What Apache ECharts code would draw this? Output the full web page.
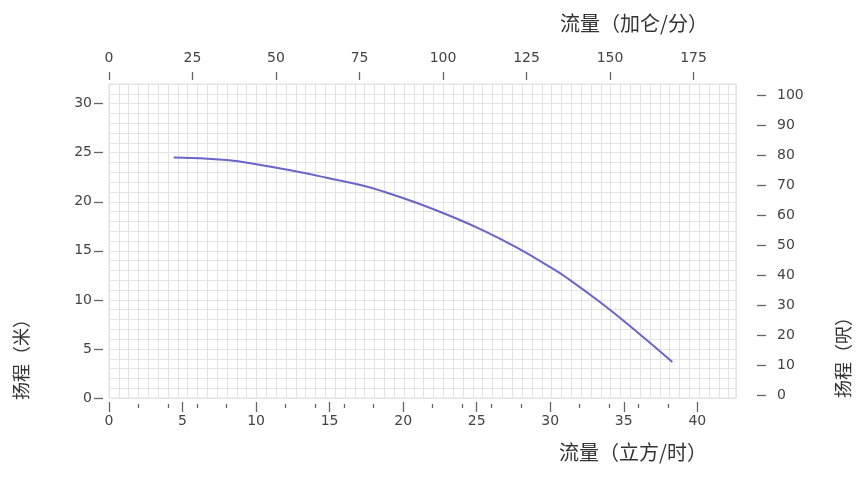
<!DOCTYPE html>
<html><head><meta charset="utf-8">
<script src="https://cdn.jsdelivr.net/npm/echarts@6/dist/echarts.min.js"></script>
<style>html,body{margin:0;padding:0;background:#fff}#c{width:865px;height:479px}</style>
</head><body><div id="c"></div>
<script>
// Data (flow m³/h, head m)
const flowM3h = [4.4, 8.0, 10.3, 12.5, 14.8, 17.1, 18.7, 20.9, 23.2, 25.5, 27.7, 30.0, 31.1, 33.4, 35.7, 38.3];
const headM   = [24.5, 24.25, 23.75, 23.15, 22.45, 21.7, 21.02, 19.9, 18.55, 17.03, 15.34, 13.34, 12.28, 9.75, 6.99, 3.68];
const bottomTicks = [0, 5, 10, 15, 20, 25, 30, 35, 40];
const bottomMinorTicks = [2, 4, 6, 8, 12, 14, 16, 18, 22, 24, 26, 28, 32, 34, 36, 38];
const topTicks = [0, 25, 50, 75, 100, 125, 150, 175];
const leftTicks = [0, 5, 10, 15, 20, 25, 30];
const rightTicks = [0, 10, 20, 30, 40, 50, 60, 70, 80, 90, 100];
const titleTop = '流量（加仑/分）';
const titleBottom = '流量（立方/时）';
const titleLeft = '扬程（米）';
const titleRight = '扬程（呎）';

const X_MAX = 42.63;          // m³/h at right edge of grid
const GPM_PER_M3H = 4.403;
const Y_MAX = 32;
const GRID_CELLS_X = 63.75;

const labelFont = {color: '#444', fontFamily: 'DejaVu Sans', fontSize: 14};
const tickStyle = {color: '#666', width: 1.3};
const gridLine = {lineStyle: {color: '#e3e3e3', width: 1}};
const noLine = {show: false, onZero: false};

const chart = echarts.init(document.getElementById('c'), null, {renderer: 'canvas'});
chart.setOption({
  animation: false,
  backgroundColor: '#fff',
  grid: [
    {left: 109, top: 84, width: 627, height: 314, show: true, borderColor: '#dedede', borderWidth: 1, containLabel: false},
    {left: 109, top: 95, width: 627, height: 300, containLabel: false}
  ],
  xAxis: [
    {type: 'value', gridIndex: 0, position: 'bottom', min: 0, max: X_MAX, offset: 4,
     axisLine: noLine, splitLine: {show: false},
     axisTick: {show: true, length: 10, lineStyle: tickStyle, customValues: bottomTicks},
     axisLabel: Object.assign({margin: 12, customValues: bottomTicks}, labelFont)},
    {type: 'value', gridIndex: 0, position: 'bottom', min: 0, max: X_MAX, offset: 6,
     axisLine: noLine, splitLine: {show: false},
     axisTick: {show: true, length: 4, lineStyle: tickStyle, customValues: bottomMinorTicks},
     axisLabel: {show: false}},
    {type: 'value', gridIndex: 0, position: 'top', min: 0, max: X_MAX * GPM_PER_M3H, offset: 4,
     axisLine: noLine, splitLine: {show: false},
     axisTick: {show: true, length: 8, lineStyle: tickStyle, customValues: topTicks},
     axisLabel: Object.assign({margin: 15, customValues: topTicks}, labelFont)},
    {type: 'value', gridIndex: 0, position: 'bottom', min: 0, max: GRID_CELLS_X, interval: 1,
     axisLine: noLine, axisTick: {show: false}, axisLabel: {show: false},
     splitLine: Object.assign({show: true}, gridLine)},
    {type: 'value', gridIndex: 1, show: false, min: 0, max: 1, axisLine: noLine}
  ],
  yAxis: [
    {type: 'value', gridIndex: 0, position: 'left', min: 0, max: Y_MAX, offset: 6,
     axisLine: noLine, splitLine: {show: false},
     axisTick: {show: true, length: 9, lineStyle: tickStyle, customValues: leftTicks},
     axisLabel: Object.assign({margin: 11, customValues: leftTicks}, labelFont)},
    {type: 'value', gridIndex: 0, position: 'left', min: 0, max: Y_MAX, interval: 1,
     axisLine: noLine, axisTick: {show: false}, axisLabel: {show: false},
     splitLine: Object.assign({show: true}, gridLine)},
    {type: 'value', gridIndex: 1, position: 'right', min: 0, max: 100, offset: 21,
     axisLine: noLine, splitLine: {show: false},
     axisTick: {show: true, length: 9, lineStyle: tickStyle, customValues: rightTicks},
     axisLabel: Object.assign({margin: 20, customValues: rightTicks}, labelFont)}
  ],
  series: [{
    type: 'line', xAxisIndex: 0, yAxisIndex: 0,
    data: flowM3h.map((q, i) => [q, headM[i]]),
    smooth: true, showSymbol: false, symbol: 'none',
    lineStyle: {color: '#6a66c9', width: 2}
  }],
  graphic: [
    {type: 'text', x: 634, y: 23, style: {text: titleTop, font: '20px "Noto Sans CJK SC"', fill: '#333', align: 'center', verticalAlign: 'middle'}},
    {type: 'text', x: 633, y: 452, style: {text: titleBottom, font: '20px "Noto Sans CJK SC"', fill: '#333', align: 'center', verticalAlign: 'middle'}},
    {type: 'text', x: 21, y: 355, rotation: Math.PI / 2, style: {text: titleLeft, font: '18px "Noto Sans CJK SC"', fill: '#333', align: 'center', verticalAlign: 'middle'}},
    {type: 'text', x: 843, y: 353, rotation: Math.PI / 2, style: {text: titleRight, font: '18px "Noto Sans CJK SC"', fill: '#333', align: 'center', verticalAlign: 'middle'}}
  ]
});
</script></body></html>
